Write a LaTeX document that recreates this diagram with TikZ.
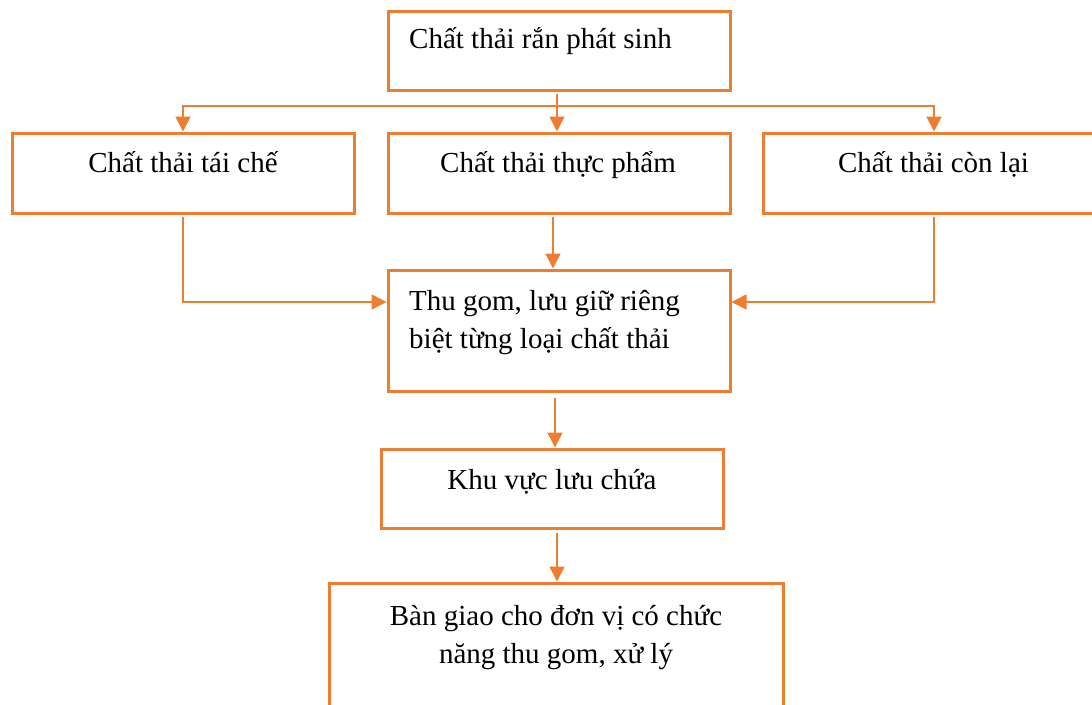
\documentclass[tikz,border=0pt]{standalone}
\usepackage{fontspec}
\setmainfont{Liberation Serif}
\usetikzlibrary{arrows.meta,calc}
\definecolor{org}{HTML}{ED7D31}
\begin{document}
\begin{tikzpicture}[x=1pt,y=-1pt,
  box/.style={draw=org,line width=3pt,inner sep=0pt},
  txt/.style={font=\fontsize{29}{38}\selectfont,inner sep=0pt,text=black},
  conn/.style={draw=org,line width=1.5pt},
  arr/.style={conn,-{Triangle[length=15pt,width=15pt]}}]
\useasboundingbox (0,0) rectangle (1092,704);
\fill[white] (0,0) rectangle (1092,704);
\clip (0,0) rectangle (1092,704);
% boxes
\node[box,minimum width=342pt,minimum height=79pt] (b1) at (559,50.5) {};
\node[box,minimum width=342pt,minimum height=80pt] (b2L) at (183,173) {};
\node[box,minimum width=342pt,minimum height=80pt] (b2M) at (559,173) {};
\node[box,minimum width=342pt,minimum height=80pt] (b2R) at (934,173) {};
\node[box,minimum width=342pt,minimum height=121pt] (b3) at (559,330.5) {};
\node[box,minimum width=342pt,minimum height=79pt] (b4) at (552,488.5) {};
\node[box,minimum width=454pt,minimum height=124pt] (b5) at (556,645) {};
% texts
\node[txt,anchor=base west] (t1) at (409,48) {Chất thải rắn phát sinh};
\node[txt,anchor=base] (t2L) at (183,172) {Chất thải tái chế};
\node[txt,anchor=base] (t2M) at (558,172) {Chất thải thực phẩm};
\node[txt,anchor=base] (t2R) at (933.5,172) {Chất thải còn lại};
\node[txt,anchor=base west,align=left] (t3) at (409,348) {Thu gom, lưu giữ riêng\\biệt từng loại chất thải};
\node[txt,anchor=base] (t4) at (552,489) {Khu vực lưu chứa};
\node[txt,anchor=base,align=center] (t5) at (556,663) {Bàn giao cho đơn vị có chức\\năng thu gom, xử lý};
% connectors
\coordinate (j) at (557,106);
\draw[conn,shorten <=2pt] ([xshift=-2pt]b1.south) -- (j);
\draw[arr] (j) -| (b2L.north);
\draw[arr] (j) -| (b2R.north);
\draw[arr] (j) -- ([xshift=-2pt]b2M.north);
\draw[arr,shorten <=2pt] ([xshift=-6pt]b2M.south) -- ([xshift=-6pt]b3.north);
\draw[arr,shorten <=2pt] (b2L.south) |- ([yshift=28.5pt]b3.west);
\draw[arr,shorten <=2pt] (b2R.south) |- ([yshift=28.5pt]b3.east);
\draw[arr,shorten <=5pt] ([xshift=-4pt]b3.south) -- ([xshift=3pt]b4.north);
\draw[arr,shorten <=3pt] ([xshift=5pt]b4.south) -- ([xshift=1pt]b5.north);
\end{tikzpicture}
\end{document}
